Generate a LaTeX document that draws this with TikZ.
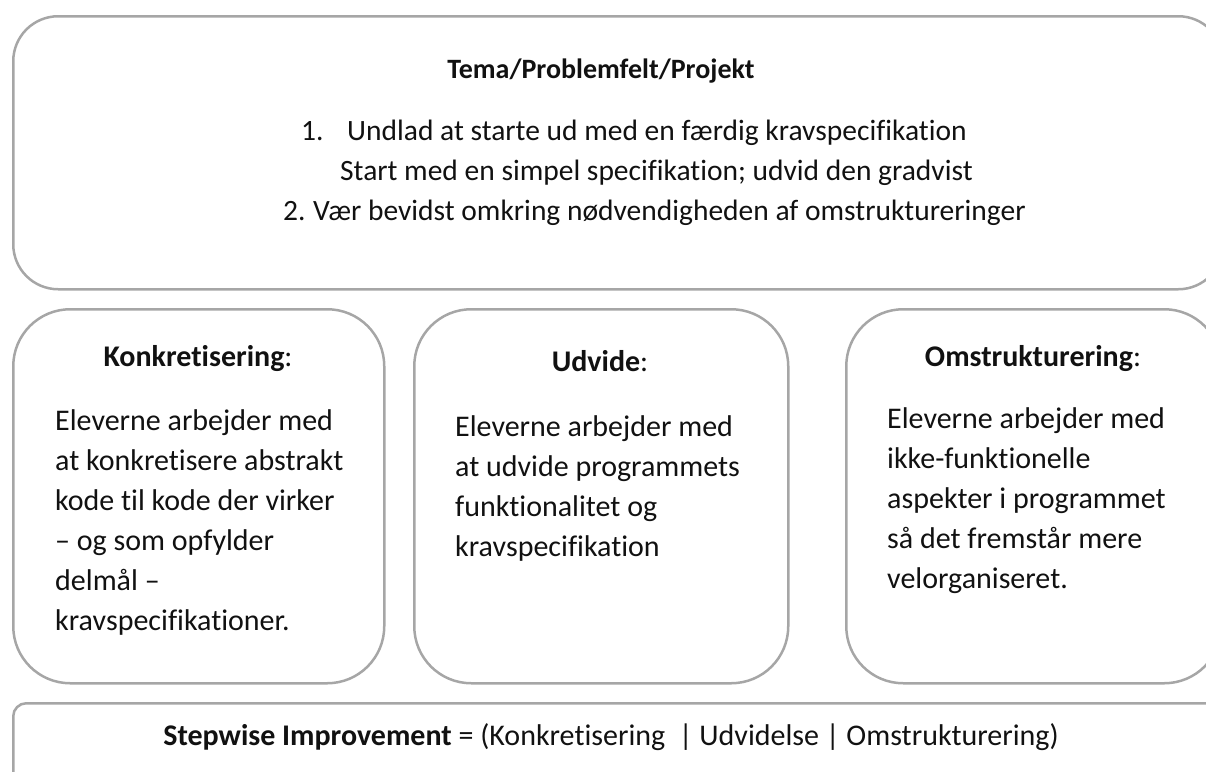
\documentclass[tikz,border=0pt]{standalone}
\usepackage{fontspec}
\setmainfont{Carlito}[Ligatures={NoCommon}]
\definecolor{boxgray}{HTML}{A6A6A6}
\definecolor{ink}{HTML}{111111}
\begin{document}
\begin{tikzpicture}[x=1pt,y=-1pt,
  box/.style={draw=boxgray, line width=2.5pt, inner sep=0pt, anchor=north west},
  txt/.style={inner sep=0pt, anchor=base west, text=ink, font=\fontsize{30}{36}\selectfont},
  toptxt/.style={txt, font=\fontsize{29.5}{36}\selectfont},
  ttl/.style={inner sep=0pt, anchor=base, text=ink, font=\fontsize{30}{36}\selectfont},
]
\useasboundingbox (0,0) rectangle (1206,771);
\clip (0,0) rectangle (1206,771);
% boxes
\node[box, rounded corners=45pt, minimum width=1210pt, minimum height=273pt] (top) at (12,15) {};
\node[box, rounded corners=57pt, minimum width=371pt, minimum height=374pt] (konk) at (12,308) {};
\node[box, rounded corners=57pt, minimum width=374pt, minimum height=374pt] (udv) at (413,308) {};
\node[box, rounded corners=57pt, minimum width=375pt, minimum height=374pt] (omst) at (845,308) {};
\node[box, rounded corners=13pt, minimum width=1210pt, minimum height=100pt] (step) at (12,702) {};
% top box text
\node[ttl, font=\fontsize{28}{34}\selectfont] (title) at (601,78) {\textbf{Tema/Problemfelt/Projekt}};
\node[toptxt] (n1) at (301,140) {1.};
\node[toptxt] (l1) at (347,140) {Undlad at starte ud med en færdig kravspecifikation};
\node[toptxt] (l2) at (340,180) {Start med en simpel specifikation; udvid den gradvist};
\node[toptxt] (n2) at (283,220) {2.};
\node[toptxt] (l3) at (313,220) {Vær bevidst omkring nødvendigheden af omstruktureringer};
% box 1
\node[ttl] (t1) at (198,366) {\textbf{Konkretisering}:};
\node[txt] (a1) at (55,430) {Eleverne arbejder med};
\node[txt] (a2) at (55,470) {at konkretisere abstrakt};
\node[txt] (a3) at (55,510) {kode til kode der virker};
\node[txt] (a4) at (55,550) {– og som opfylder};
\node[txt] (a5) at (55,590) {delmål –};
\node[txt] (a6) at (55,630) {kravspecifikationer.};
% box 2
\node[ttl] (t2) at (600,371) {\textbf{Udvide}:};
\node[txt] (b1) at (455,436) {Eleverne arbejder med};
\node[txt] (b2) at (455,476) {at udvide programmets};
\node[txt] (b3) at (455,516) {funktionalitet og};
\node[txt] (b4) at (455,556) {kravspecifikation};
% box 3
\node[ttl] (t3) at (1033,366) {\textbf{Omstrukturering}:};
\node[txt] (c1) at (887,428) {Eleverne arbejder med};
\node[txt] (c2) at (887,468) {ikke-funktionelle};
\node[txt] (c3) at (887,508) {aspekter i programmet};
\node[txt] (c4) at (887,548) {så det fremstår mere};
\node[txt] (c5) at (887,588) {velorganiseret.};
% bottom
\node[ttl] (formula) at (611,745) {\textbf{Stepwise Improvement} = (Konkretisering~~|~Udvidelse~|~Omstrukturering)};
\end{tikzpicture}
\end{document}
